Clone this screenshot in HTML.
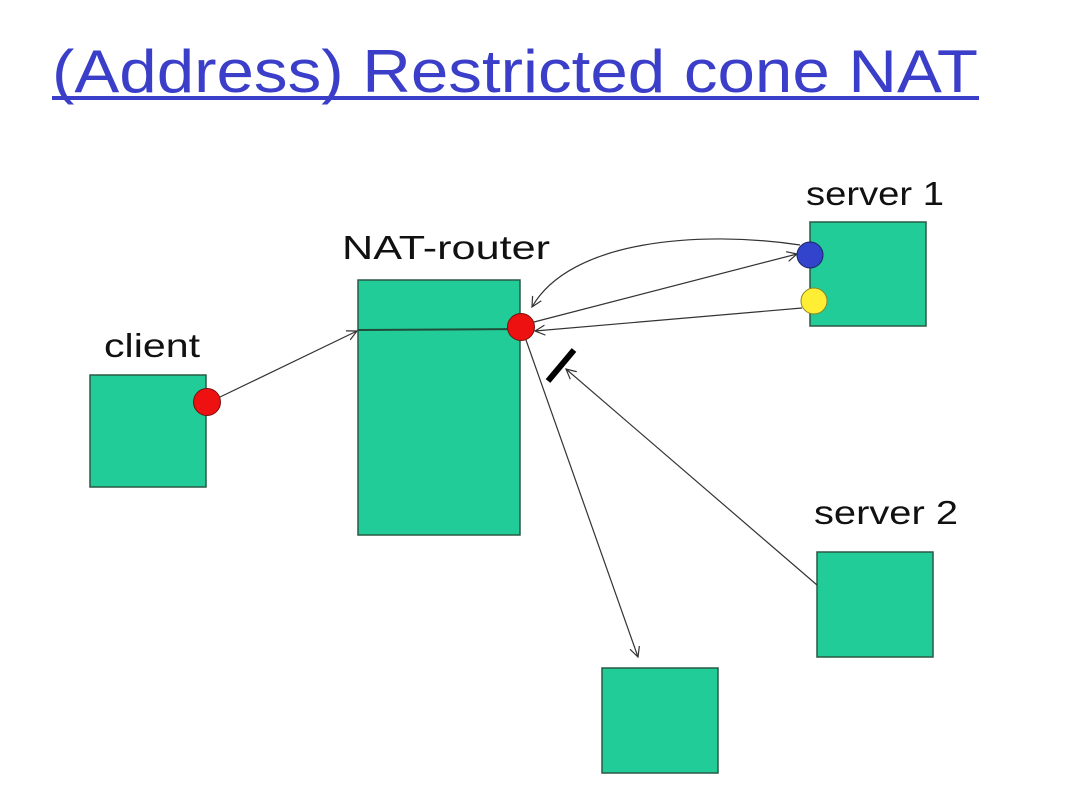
<!DOCTYPE html>
<html><head><meta charset="utf-8"><style>
html,body{margin:0;padding:0;background:#fff;width:1080px;height:801px;overflow:hidden}
</style></head><body>
<svg width="1080" height="801" viewBox="0 0 1080 801" xmlns="http://www.w3.org/2000/svg">
<defs>
<marker id="a" markerWidth="12" markerHeight="12" refX="10" refY="6" orient="auto" markerUnits="userSpaceOnUse">
<path d="M0,1 L10,6 L0,11" fill="none" stroke="#333" stroke-width="1.2"/>
</marker>
</defs>
<text x="52" y="92" font-family="Liberation Sans, sans-serif" font-size="60" fill="#3a3ec8" textLength="926" lengthAdjust="spacingAndGlyphs">(Address) Restricted cone NAT</text>
<rect x="52" y="96" width="927" height="4" fill="#3a3ec8"/>
<g font-family="Liberation Sans, sans-serif" font-size="33" fill="#111">
<text x="104" y="357" textLength="96" lengthAdjust="spacingAndGlyphs">client</text>
<text x="342" y="259" textLength="208" lengthAdjust="spacingAndGlyphs">NAT-router</text>
<text x="806" y="205" textLength="138" lengthAdjust="spacingAndGlyphs">server 1</text>
<text x="814" y="524" textLength="144" lengthAdjust="spacingAndGlyphs">server 2</text>
</g>
<g fill="#22cc99" stroke="#2a5a45" stroke-width="1.5">
<rect x="90" y="375" width="116" height="112"/>
<rect x="358" y="280" width="162" height="255"/>
<rect x="810" y="222" width="116" height="104"/>
<rect x="817" y="552" width="116" height="105"/>
<rect x="602" y="668" width="116" height="105"/>
</g>
<line x1="358" y1="330" x2="520" y2="329" stroke="#1f4d3a" stroke-width="2"/>
<g stroke="#333" stroke-width="1.2" fill="none" marker-end="url(#a)">
<line x1="218" y1="398" x2="357" y2="331"/>
<line x1="534" y1="322" x2="797" y2="254"/>
<path d="M800,245 C700,230 570,240 532,307"/>
<line x1="802" y1="308" x2="535" y2="331"/>
<line x1="526" y1="340" x2="638" y2="657"/>
<line x1="817" y1="585" x2="566" y2="369"/>
</g>
<line x1="548" y1="381" x2="574" y2="350" stroke="#000" stroke-width="6"/>
<circle cx="207" cy="402" r="13.5" fill="#ee1111" stroke="#7a1010" stroke-width="1"/>
<circle cx="521" cy="327" r="13.5" fill="#ee1111" stroke="#7a1010" stroke-width="1"/>
<circle cx="810" cy="255" r="13" fill="#3344cc" stroke="#1a2266" stroke-width="1"/>
<circle cx="814" cy="301" r="13" fill="#ffee33" stroke="#888822" stroke-width="1"/>
</svg>
</body></html>
